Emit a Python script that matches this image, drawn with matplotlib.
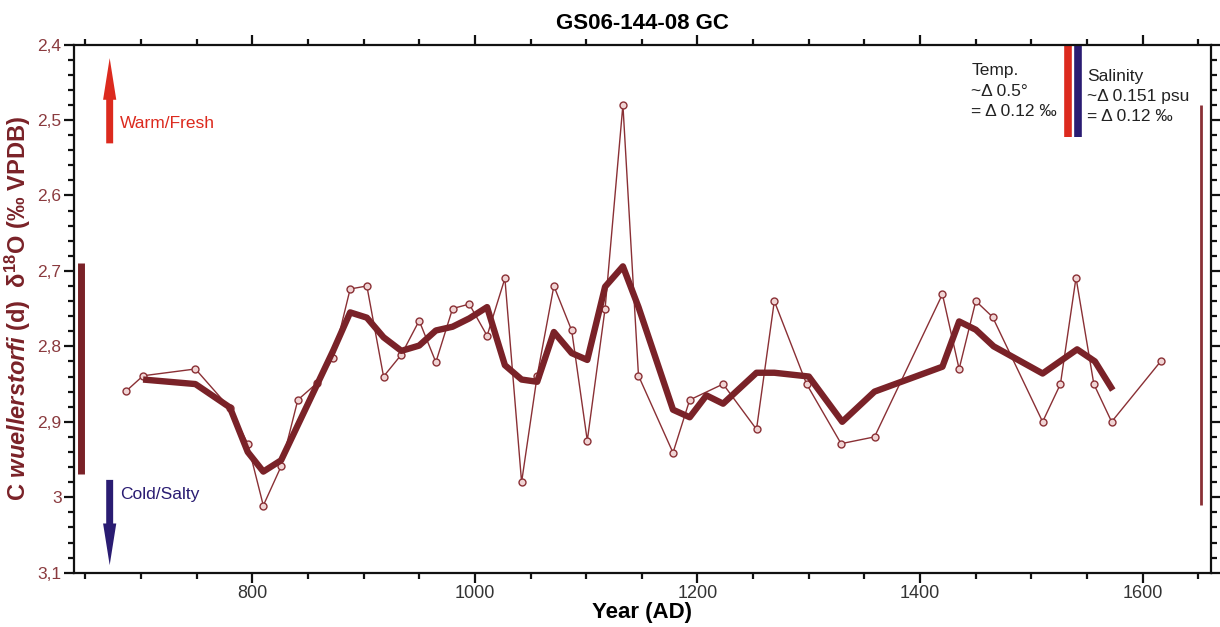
import numpy as np
import matplotlib
matplotlib.use("Agg")
import matplotlib.pyplot as plt
from matplotlib.ticker import MultipleLocator, FuncFormatter

plt.rcParams["font.family"] = ["Liberation Sans", "DejaVu Sans"]
plt.rcParams["mathtext.fontset"] = "custom"
plt.rcParams["mathtext.rm"] = "Liberation Sans"
plt.rcParams["mathtext.it"] = "Liberation Sans:italic"
plt.rcParams["mathtext.bf"] = "Liberation Sans:bold"
plt.rcParams["mathtext.bfit"] = "Liberation Sans:bold:italic"

# raw measurements (thin line with markers)
thin_years = [687, 702, 749, 780, 796, 810, 826, 841, 858, 873, 888, 903, 918, 934,
              950, 965, 980, 995, 1011, 1027, 1042, 1056, 1071, 1087, 1101, 1117,
              1133, 1147, 1178, 1193, 1223, 1253, 1269, 1298, 1329, 1359, 1420,
              1435, 1450, 1465, 1510, 1526, 1540, 1556, 1572, 1616]
thin_vals = [2.859, 2.839, 2.830, 2.882, 2.929, 3.011, 2.959, 2.871, 2.849, 2.815,
             2.724, 2.720, 2.840, 2.811, 2.766, 2.821, 2.750, 2.744, 2.786, 2.710,
             2.980, 2.839, 2.720, 2.779, 2.925, 2.750, 2.480, 2.839, 2.941, 2.871,
             2.850, 2.910, 2.740, 2.850, 2.929, 2.920, 2.731, 2.830, 2.740, 2.761,
             2.900, 2.850, 2.709, 2.850, 2.900, 2.820]

# smoothed record (thick line)
thick_years = [702, 749, 780, 796, 810, 826, 873, 888, 903, 918, 934, 950, 965, 980,
               995, 1011, 1027, 1042, 1056, 1071, 1087, 1101, 1117, 1133, 1147, 1178,
               1193, 1208, 1223, 1253, 1269, 1300, 1330, 1359, 1420, 1435, 1450,
               1466, 1510, 1541, 1557, 1573]
thick_vals = [2.844, 2.850, 2.881, 2.940, 2.966, 2.951, 2.805, 2.755, 2.762, 2.788,
              2.806, 2.799, 2.779, 2.774, 2.763, 2.748, 2.825, 2.844, 2.847, 2.781,
              2.809, 2.818, 2.721, 2.694, 2.748, 2.884, 2.894, 2.865, 2.876, 2.835,
              2.835, 2.840, 2.900, 2.860, 2.827, 2.767, 2.778, 2.800, 2.836, 2.804,
              2.820, 2.858]

# scale bars: (year, top, bottom)
left_bar = (646, 2.690, 2.969)
right_bar = (1652, 2.480, 3.010)
temp_bar = (1533, 2.40, 2.522)
sal_bar = (1542, 2.40, 2.522)

DARK = "#7a2228"
RED = "#dc2a1e"
NAVY = "#2a1c72"

fig = plt.figure(figsize=(12.2, 6.27), dpi=100)
ax = fig.add_axes([0.0607, 0.0866, 0.9317, 0.8424])

ax.plot(thin_years, thin_vals, color="#8a3035", lw=1.0, marker="o", ms=5,
        mfc="#f0d4d4", mec="#8a3035", mew=1.0, zorder=3)
ax.plot(thick_years, thick_vals, color=DARK, lw=4.6, solid_joinstyle="round",
        solid_capstyle="butt", zorder=4)

ax.plot([left_bar[0]] * 2, left_bar[1:], color=DARK, lw=5, solid_capstyle="butt")
ax.plot([right_bar[0]] * 2, right_bar[1:], color="#8a3035", lw=2, solid_capstyle="butt")
ax.plot([temp_bar[0]] * 2, temp_bar[1:], color=RED, lw=5.5, solid_capstyle="butt")
ax.plot([sal_bar[0]] * 2, sal_bar[1:], color=NAVY, lw=5.5, solid_capstyle="butt")

arrow_kw = dict(arrowstyle="simple,head_width=0.95,head_length=3.0,tail_width=0.5",
                mutation_scale=10, shrinkA=0, shrinkB=0, lw=0)
ax.annotate("", xy=(672, 2.418), xytext=(672, 2.531),
            arrowprops=dict(color=RED, **arrow_kw))
ax.annotate("", xy=(672, 3.090), xytext=(672, 2.977),
            arrowprops=dict(color=NAVY, **arrow_kw))
ax.text(681, 2.505, "Warm/Fresh", color=RED, fontsize=12.5, va="center", ha="left")
ax.text(681, 2.996, "Cold/Salty", color=NAVY, fontsize=12.5, va="center", ha="left")

ax.text(1446, 2.425, "Temp.\n~\u0394 0.5\u00b0\n= \u0394 0.12 \u2030", color="#222222",
        fontsize=12.5, va="top", ha="left", linespacing=1.45)
ax.text(1550, 2.432, "Salinity\n~\u0394 0.151 psu\n= \u0394 0.12 \u2030", color="#222222",
        fontsize=12.5, va="top", ha="left", linespacing=1.45)

ax.set_xlim(640, 1661)
ax.set_ylim(3.1, 2.4)

ax.xaxis.set_major_locator(MultipleLocator(200))
ax.xaxis.set_minor_locator(MultipleLocator(50))
ax.yaxis.set_major_locator(MultipleLocator(0.1))
ax.yaxis.set_minor_locator(MultipleLocator(0.02))
ax.yaxis.set_major_formatter(FuncFormatter(lambda v, p: f"{round(v, 2):g}".replace(".", ",")))

for s in ax.spines.values():
    s.set_linewidth(1.6)
    s.set_color("#111111")

ax.tick_params(which="both", direction="out", top=True, right=True, width=1.6,
               color="#111111")
ax.tick_params(which="major", length=7)
ax.tick_params(which="minor", length=4)
ax.tick_params(axis="x", labelsize=13, labelcolor="#333333", pad=2)
ax.tick_params(axis="y", labelsize=12.5, labelcolor="#8a3a3e", pad=2)

ax.set_title("GS06-144-08 GC", fontsize=16, fontweight="bold", pad=11)
ax.set_xlabel("Year (AD)", fontsize=16, fontweight="bold", labelpad=0)
ax.set_ylabel(r"C $\mathbfit{wuellerstorfi}$ (d)  $\mathbf{\delta^{18}O}$ (‰ VPDB)",
              fontsize=17, fontweight="bold", color=DARK, labelpad=3)

fig.savefig("out.png", dpi=100)
